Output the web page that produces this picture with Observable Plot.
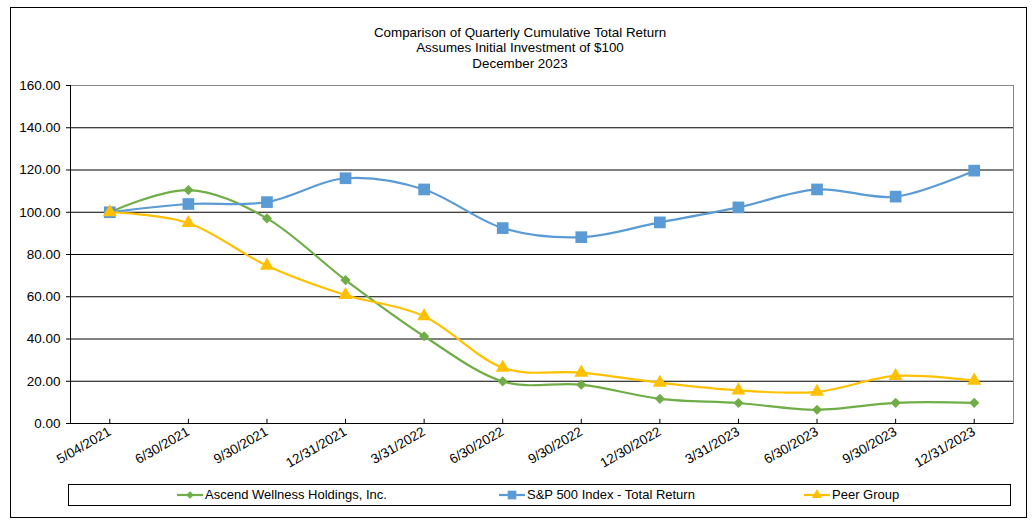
<!DOCTYPE html>
<html>
<head>
<meta charset="utf-8">
<script src="https://cdn.jsdelivr.net/npm/d3@7"></script>
<script src="https://cdn.jsdelivr.net/npm/@observablehq/plot@0.6"></script>
<style>
  body { margin: 0; background: #fff; font-family: "Liberation Sans", Arial, sans-serif; }
  #wrap { position: relative; width: 1036px; height: 525px; overflow: hidden; }
  #border { position: absolute; left: 10px; top: 7px; width: 1017px; height: 511px; border: 1px solid #000; box-sizing: border-box; }
  #title { position: absolute; left: 0; width: 1040px; top: 25px; text-align: center; font-size: 13.4px; line-height: 15.3px; color: #000; }
  #chart { position: absolute; left: 0; top: 0; }
  #legend { position: absolute; left: 68px; top: 484px; width: 943px; height: 22px; border: 1px solid #000; box-sizing: border-box; }
  .entry { position: absolute; top: 0; height: 20px; font-size: 13px; line-height: 20px; white-space: nowrap; }
  .entry svg { position: absolute; top: 0; left: 0; }
  .entry span { position: absolute; top: 0; }
</style>
</head>
<body>
<div id="wrap">
  <div id="border"></div>
  <div id="title"></div>
  <div id="chart"></div>
  <div id="legend"></div>
</div>
<script>
// ---- Data ----
const titleLines = ["Comparison of Quarterly Cumulative Total Return", "Assumes Initial Investment of $100", "December 2023"];
const dates = ["5/04/2021", "6/30/2021", "9/30/2021", "12/31/2021", "3/31/2022", "6/30/2022",
               "9/30/2022", "12/30/2022", "3/31/2023", "6/30/2023", "9/30/2023", "12/31/2023"];
const ascend = [100.00, 110.5, 97.1, 67.9, 41.3, 19.9, 18.4, 11.7, 9.7, 6.5, 9.8, 9.8];
const sp500  = [100.00, 103.9, 104.8, 116.1, 110.8, 92.5, 88.2, 95.2, 102.3, 110.8, 107.4, 119.7];
const peer   = [100.00, 94.9, 74.7, 60.8, 50.8, 26.4, 24.1, 19.3, 15.7, 15.0, 22.5, 20.3];
const seriesNames = ["Ascend Wellness Holdings, Inc.", "S&P 500 Index - Total Return", "Peer Group"];
const yTicks = [0, 20, 40, 60, 80, 100, 120, 140, 160];
const gridValues = [20, 40, 60, 80, 100, 120, 140];

// ---- Styles ----
const colors = ["#70AD47", "#5B9BD5", "#FFC000"];
const symbols = ["diamond2", "square", "triangle"];
const radii = [4.6, 6.6, 5.2];
const legendLeft = [108, 430, 735];

document.getElementById("title").innerHTML = titleLines.map(t => `<div>${t.replace("&","&amp;")}</div>`).join("");

const allValues = [ascend, sp500, peer];
const rows = allValues.flatMap((vals, s) => dates.map((d, i) => ({date: d, value: vals[i], series: s})));

const seriesMarks = [0, 1, 2].flatMap(s => {
  const data = rows.filter(r => r.series === s);
  return [
    Plot.line(data, {x: "date", y: "value", stroke: colors[s], strokeWidth: 2.2, curve: "cardinal"}),
    Plot.dot(data, {x: "date", y: "value", symbol: symbols[s], fill: colors[s], r: radii[s], stroke: "none"})
  ];
});

const chart = Plot.plot({
  width: 1036,
  height: 525,
  marginLeft: 70,
  marginRight: 23,
  marginTop: 85,
  marginBottom: 102,
  style: {fontFamily: "'Liberation Sans', Arial, sans-serif", fontSize: "13.5px", color: "#000", background: "transparent", overflow: "visible"},
  x: {type: "point", domain: dates, padding: 0.5, round: false, label: null},
  y: {domain: [0, 160], label: null},
  marks: [
    Plot.frame({stroke: "#888", strokeWidth: 1}),
    Plot.ruleY(gridValues, {stroke: "#000", strokeWidth: 1}),
    Plot.ruleY([0], {stroke: "#000", strokeWidth: 1}),
    Plot.frame({anchor: "left", stroke: "#000", strokeWidth: 1}),
    Plot.ruleX(dates, {x: d => d, y1: 0, y2: 2, stroke: "#000", strokeWidth: 1}),
    Plot.axisY(yTicks, {tickFormat: d => d.toFixed(2), tickSize: 4, tickPadding: 6, fontSize: 13.5, label: null}),
    Plot.axisX({tickSize: 0, tickRotate: -30, tickPadding: 7, fontSize: 13.5, label: null}),
    ...seriesMarks
  ]
});
document.getElementById("chart").appendChild(chart);

// ---- Legend ----
const legend = d3.select("#legend");
seriesNames.forEach((name, s) => {
  const e = legend.append("div").attr("class", "entry").style("left", legendLeft[s] + "px").style("width", "300px");
  const svg = e.append("svg").attr("width", 26).attr("height", 20);
  svg.append("line").attr("x1", 0).attr("x2", 26).attr("y1", 10).attr("y2", 10).attr("stroke", colors[s]).attr("stroke-width", 2.2);
  const sym = {diamond2: d3.symbolDiamond2, square: d3.symbolSquare, triangle: d3.symbolTriangle}[symbols[s]];
  const size = Math.PI * radii[s] * radii[s] * 0.55;
  svg.append("path").attr("d", d3.symbol(sym, size)()).attr("transform", "translate(13,10)").attr("fill", colors[s]);
  e.append("span").style("left", "28px").text(name);
});
</script>
</body>
</html>
